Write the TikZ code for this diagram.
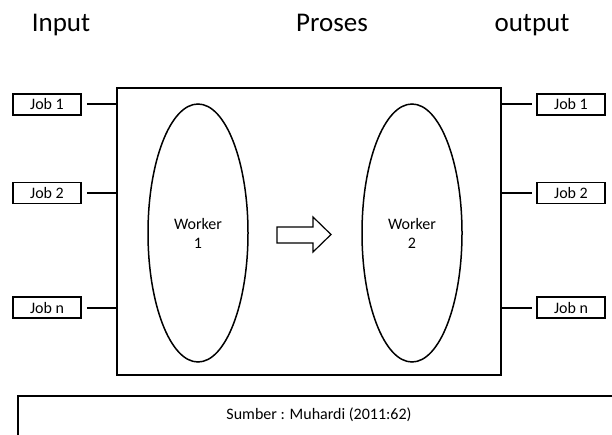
\documentclass[tikz,border=0pt]{standalone}
\usepackage{fontspec}
\setmainfont{Carlito}
\usepackage{tikz}
\usetikzlibrary{shapes.geometric}

\begin{document}
\begin{tikzpicture}[x=1pt, y=-1pt, line width=1.5pt,
    every node/.style={font=\fontsize{16}{19}\selectfont},
    title/.style={font=\fontsize{27}{32}\selectfont, anchor=base},
    jobbox/.style={draw, minimum width=68pt, minimum height=21pt, inner sep=0pt},
    worker/.style={draw, ellipse, minimum width=100pt, minimum height=258pt, inner sep=0pt, align=center}]
    \useasboundingbox (0,0) rectangle (612,435);
    % titles
    \node[title] (tin) at (61,32) {Input};
    \node[title] (tproc) at (332,32) {Proses};
    \node[title] (tout) at (532,32) {output};
    % process box
    \node[draw, minimum width=384pt, minimum height=287pt, inner sep=0pt] (proc) at (309,231.5) {};
    \node[worker] (w1) at (198,233) {Worker\\1};
    \node[worker] (w2) at (412,233) {Worker\\2};
    \draw[line width=1.2pt] (277,227) -- (313,227) -- (313,217) -- (331,234.5)
      -- (313,252) -- (313,243) -- (277,243) -- cycle;
    % jobs in and out
    \foreach \i/\y/\t in {1/104.5/1, 2/193/2, 3/307.5/n} {
      \node[jobbox] (in\i) at (47,\y) {Job \t};
      \node[jobbox] (out\i) at (571,\y) {Job \t};
      \draw[line width=2pt, shorten <=5pt] (in\i.east) -- (in\i.east -| proc.west);
      \draw[line width=2pt, shorten >=4pt] (out\i.west -| proc.east) -- (out\i.west);
    }
    % source
    \draw (18,440) -- (18,396) -- (620,396);
    \node (src) at (319,415) {Sumber : Muhardi (2011:62)};
  \end{tikzpicture}
\end{document}
